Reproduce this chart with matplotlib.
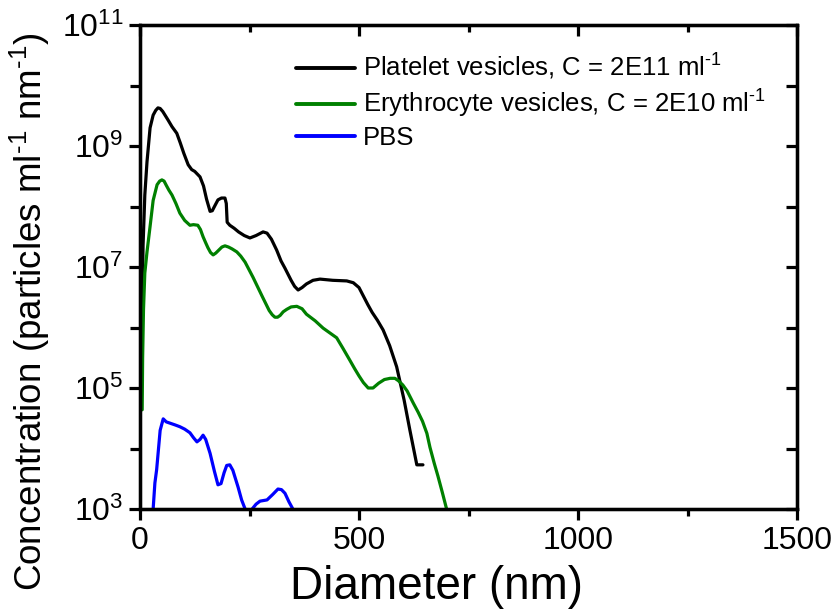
import numpy as np
import matplotlib
matplotlib.use("Agg")
import matplotlib.pyplot as plt
from matplotlib.ticker import FixedLocator, NullFormatter

plt.rcParams['font.family'] = ['Liberation Sans', 'DejaVu Sans']
plt.rcParams['mathtext.fontset'] = 'custom'
plt.rcParams['mathtext.rm'] = 'Liberation Sans'
plt.rcParams['mathtext.it'] = 'Liberation Sans:italic'
plt.rcParams['mathtext.bf'] = 'Liberation Sans:bold'

# Platelet vesicles (diameter nm, log10 concentration)
platelet_d = [3, 5, 7, 11, 16, 23, 30, 36, 41, 46, 52, 58, 64, 73, 84, 92, 100, 110, 118, 125,
              137, 145, 152, 160, 165, 170, 178, 186, 194, 197, 199, 205, 215, 225, 238, 251,
              265, 281, 290, 300, 312, 322, 331, 345, 353, 361, 370, 380, 395, 411, 440, 472,
              487, 500, 510, 520, 530, 542, 555, 570, 586, 603, 616, 632, 646]
platelet_log = [4.72, 6.3, 7.36, 8.19, 8.74, 9.30, 9.51, 9.59, 9.63, 9.62, 9.57, 9.50, 9.43,
                9.32, 9.21, 9.05, 8.88, 8.69, 8.61, 8.58, 8.49, 8.34, 8.12, 7.92, 7.93, 8.00,
                8.11, 8.14, 8.14, 8.05, 7.74, 7.69, 7.64, 7.58, 7.52, 7.48, 7.52, 7.58, 7.56,
                7.46, 7.28, 7.10, 6.98, 6.78, 6.68, 6.62, 6.66, 6.72, 6.78, 6.80, 6.78, 6.77,
                6.74, 6.66, 6.52, 6.38, 6.25, 6.12, 5.96, 5.70, 5.35, 4.80, 4.31, 3.73, 3.73]

# Erythrocyte vesicles
ery_d = [5, 6, 8, 11, 16, 23, 30, 39, 45, 50, 55, 60, 66, 73, 82, 91, 102, 114, 122, 132, 138,
         144, 150, 155, 161, 167, 173, 180, 187, 194, 202, 210, 221, 230, 240, 258, 280, 295,
         302, 308, 314, 320, 327, 335, 345, 358, 370, 380, 400, 418, 449, 463, 479, 490, 500,
         510, 521, 532, 545, 558, 571, 582, 590, 600, 610, 624, 635, 645, 655, 662, 672, 680,
         690, 700]
ery_log = [4.64, 5.5, 6.3, 6.9, 7.25, 7.67, 8.1, 8.36, 8.42, 8.44, 8.42, 8.35, 8.27, 8.19,
           8.05, 7.89, 7.77, 7.69, 7.70, 7.69, 7.62, 7.50, 7.40, 7.32, 7.24, 7.20, 7.23, 7.28,
           7.33, 7.35, 7.33, 7.30, 7.25, 7.18, 7.08, 6.83, 6.50, 6.28, 6.21, 6.17, 6.17, 6.20,
           6.26, 6.30, 6.34, 6.35, 6.31, 6.22, 6.11, 5.99, 5.83, 5.66, 5.46, 5.32, 5.20, 5.09,
           5.00, 5.00, 5.08, 5.14, 5.16, 5.16, 5.12, 5.05, 4.95, 4.75, 4.60, 4.45, 4.25, 4.02,
           3.75, 3.55, 3.28, 3.0]

# PBS
pbs_d = [30, 34, 38, 46, 53, 60, 68, 80, 91, 102, 114, 122, 130, 137, 144, 150, 160, 170, 178,
         185, 192, 198, 205, 212, 218, 224, 232, 240, 248, 256, 265, 274, 290, 303, 315, 323,
         331, 340, 349]
pbs_log = [3.0, 3.43, 3.65, 4.3, 4.49, 4.44, 4.42, 4.39, 4.36, 4.32, 4.26, 4.18, 4.11, 4.15,
           4.22, 4.15, 3.92, 3.62, 3.40, 3.42, 3.60, 3.72, 3.73, 3.64, 3.50, 3.36, 3.15, 3.0,
           2.8, 3.0, 3.08, 3.13, 3.15, 3.24, 3.33, 3.32, 3.26, 3.12, 3.0]

labels = ["Platelet vesicles, C = 2E11 ml$^{\\text{-1}}$",
          "Erythrocyte vesicles, C = 2E10 ml$^{\\text{-1}}$",
          "PBS"]
colors = ["#000000", "#008000", "#0000ff"]

fig = plt.figure(figsize=(8.34, 6.13), dpi=100)
ax = fig.add_axes([140/834, 1-509/613, 657/834, 484/613])

lw = 2.3
series = [(platelet_d, platelet_log), (ery_d, ery_log), (pbs_d, pbs_log)]
for (d, lg), lab, c in zip(series, labels, colors):
    ax.plot(d, 10**np.array(lg), color=c, lw=lw, label=lab,
            solid_joinstyle='round', solid_capstyle='round')

ax.set_yscale('log')
ax.set_xlim(0, 1500)
ax.set_ylim(1e3, 1e11)

ax.xaxis.set_major_locator(FixedLocator([0, 500, 1000, 1500]))
ax.xaxis.set_minor_locator(FixedLocator([250, 750, 1250]))
ax.yaxis.set_major_locator(FixedLocator([1e3, 1e5, 1e7, 1e9, 1e11]))
ax.yaxis.set_minor_locator(FixedLocator([1e4, 1e6, 1e8, 1e10]))
ax.yaxis.set_minor_formatter(NullFormatter())

for s in ax.spines.values():
    s.set_linewidth(2.3)

ax.tick_params(which='major', direction='out', length=8, width=2.3, labelsize=23, pad=4)
ax.tick_params(which='minor', direction='out', length=5, width=2.3)
ax.tick_params(axis='y', which='minor', length=7)

# mirrored inward ticks on top and right
axt = ax.twiny()
axt.set_xlim(ax.get_xlim())
axt.xaxis.set_major_locator(FixedLocator([0, 500, 1000, 1500]))
axt.xaxis.set_minor_locator(FixedLocator([250, 750, 1250]))
axt.tick_params(which='major', direction='in', length=8, width=2.3, labeltop=False)
axt.tick_params(which='minor', direction='in', length=5, width=2.3)
axr = ax.twinx()
axr.set_yscale('log')
axr.set_ylim(ax.get_ylim())
axr.yaxis.set_major_locator(FixedLocator([1e3, 1e5, 1e7, 1e9, 1e11]))
axr.yaxis.set_minor_locator(FixedLocator([1e4, 1e6, 1e8, 1e10]))
axr.yaxis.set_minor_formatter(NullFormatter())
axr.tick_params(which='both', direction='in', length=8, width=2.3, labelright=False)
for a in (axt, axr):
    for s in a.spines.values():
        s.set_linewidth(2.3)

ax.set_xlabel("Diameter (nm)", fontsize=33)
ax.xaxis.set_label_coords((437-140)/657, -0.115)
ax.set_ylabel("Concentration (particles ml$^{\\text{-1}}$ nm$^{\\text{-1}}$)", fontsize=26.5)
ax.yaxis.set_label_coords((52-140)/657, (509-312)/484)

leg = ax.legend(loc='upper left', bbox_to_anchor=(0.222, 0.965), frameon=False,
                fontsize=18.5, handlelength=2.3, handletextpad=0.3, labelspacing=0.22,
                borderaxespad=0)
for h in leg.get_lines():
    h.set_linewidth(2.8)

fig.savefig("out.png", dpi=100)
